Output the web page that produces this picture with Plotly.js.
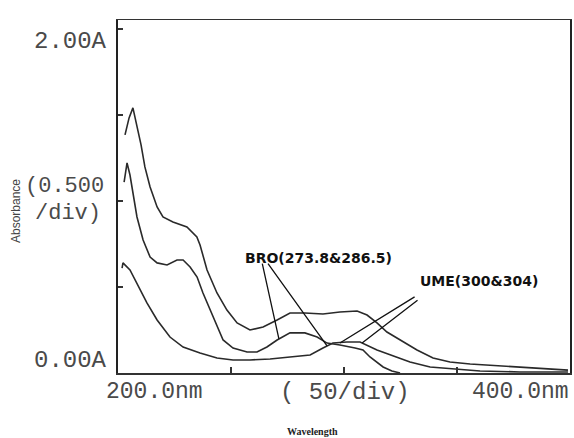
<!DOCTYPE html>
<html>
<head>
<meta charset="utf-8">
<script src="https://cdn.plot.ly/plotly-3.0.1.min.js"></script>
<style>html,body{margin:0;padding:0;background:#fff;}#chart{width:574px;height:438px;}</style>
</head>
<body>
<div id="chart"></div>
<script>
// Wavelength (nm) / absorbance (A)
const wlA = [203.1,204.9,206.6,208.4,210.2,211.9,214.2,217.3,219.9,224.3,230.5,234.9,236.3,239.4,243.8,248.2,252.7,258.4,264.2,270.4,276.1,282.7,290.7,298.2,305.8,310.2,314.6,319.0,324.8,332.3,339.4,346.9,355.8,369.0,382.3,399.1];
const absA = [1.384,1.483,1.541,1.442,1.326,1.198,1.081,0.965,0.907,0.878,0.849,0.791,0.744,0.599,0.465,0.366,0.291,0.250,0.267,0.308,0.349,0.349,0.343,0.355,0.360,0.337,0.291,0.238,0.192,0.134,0.087,0.064,0.052,0.041,0.029,0.017];

const wlB = [202.7,204.0,205.3,206.6,208.4,211.1,214.2,217.3,221.7,226.1,228.8,231.9,235.0,237.6,240.7,243.8,246.5,250.9,257.1,261.5,265.9,270.4,276.1,282.7,288.1,292.5,298.2,304.9,308.4,311.5,314.6,317.3,321.2,324.8];
const absB = [1.110,1.221,1.151,1.052,0.907,0.773,0.674,0.640,0.628,0.657,0.657,0.616,0.558,0.465,0.366,0.267,0.192,0.145,0.122,0.122,0.151,0.192,0.233,0.233,0.209,0.174,0.163,0.145,0.134,0.093,0.064,0.035,0.012,0.0];

const wlC = [201.8,202.2,205.3,208.4,212.8,217.3,223.0,228.8,236.3,243.8,250.9,258.4,267.3,276.1,285.0,290.7,295.1,301.3,307.1,314.6,320.4,329.2,338.1,350.0,360.2,377.9,399.1];
const absC = [0.610,0.640,0.599,0.523,0.407,0.308,0.209,0.151,0.116,0.087,0.076,0.076,0.081,0.093,0.105,0.145,0.174,0.180,0.180,0.134,0.105,0.064,0.035,0.023,0.012,0.006,0.006];

// Peak labels and their pointer lines (tail near label -> point on curve)
const peakLabels = ["BRO(273.8&286.5)", "UME(300&304)"];
const pointerTailWl = [263.7, 265.9, 331.9, 333.2];
const pointerTailAbs = [0.645, 0.645, 0.448, 0.430];
const pointerHeadWl = [271.2, 292.5, 298.2, 308.0];
const pointerHeadAbs = [0.198, 0.157, 0.174, 0.174];

// Axis texts as printed by the instrument
const yTickTexts = ["2.00A", "(0.500", "/div)", "0.00A"];
const xTickTexts = ["200.0nm", "( 50/div)", "400.0nm"];
const xRange = [200, 400];
const yRange = [0, 2.052];

const W = 574, H = 438, L = 118, R = 4, T = 20, B = 65;
const pw = W - L - R, ph = H - T - B;
const px = v => (v - L) / pw;          // pixel -> paper x
const py = v => (H - B - v) / ph;      // pixel -> paper y

const lineStyle = {color: '#2a2a2a', width: 1.6};
const traces = [
  {x: wlA, y: absA, mode: 'lines', line: lineStyle, hoverinfo: 'skip'},
  {x: wlB, y: absB, mode: 'lines', line: lineStyle, hoverinfo: 'skip'},
  {x: wlC, y: absC, mode: 'lines', line: lineStyle, hoverinfo: 'skip'}
];

const mono = {family: 'Liberation Mono, DejaVu Sans Mono, monospace', size: 24, color: '#4a4a4a'};
const ann = [];
function txt(t, x, y, font, extra) {
  ann.push(Object.assign({text: t, xref: 'paper', yref: 'paper', x: px(x), y: py(y),
    xanchor: 'center', yanchor: 'middle', showarrow: false, font: font}, extra || {}));
}
txt(yTickTexts[0], 70, 41, mono);
txt(yTickTexts[1], 64, 186, Object.assign({}, mono, {size: 22}));
txt(yTickTexts[2], 68, 214, Object.assign({}, mono, {size: 22}));
txt(yTickTexts[3], 70, 360, mono);
txt(xTickTexts[0], 154, 392, Object.assign({}, mono, {size: 23}));
txt(xTickTexts[1], 345, 392, mono);
txt(xTickTexts[2], 520, 392, Object.assign({}, mono, {size: 23}));
txt('Absorbance', 16, 211, {family: 'Liberation Sans, Arial, sans-serif', size: 12, color: '#444'}, {textangle: -90});
txt('Wavelength', 312, 431, {family: 'Liberation Serif, serif', size: 10, color: '#222', weight: 'bold'});
const bold = {family: 'DejaVu Sans, sans-serif', size: 14, color: '#111', weight: 'bold'};
txt(peakLabels[0], 318, 258, bold);
txt(peakLabels[1], 479, 281, bold);

for (let i = 0; i < pointerTailWl.length; i++) {
  ann.push({text: '', xref: 'x', yref: 'y', axref: 'x', ayref: 'y',
    x: pointerHeadWl[i], y: pointerHeadAbs[i], ax: pointerTailWl[i], ay: pointerTailAbs[i],
    showarrow: true, arrowhead: 0, arrowwidth: 1.3, arrowcolor: '#111'});
}

const layout = {
  width: W, height: H,
  margin: {l: L, r: R, t: T, b: B, pad: 0},
  paper_bgcolor: '#fff', plot_bgcolor: '#fff',
  showlegend: false,
  xaxis: {range: xRange, showgrid: false, zeroline: false, showline: true, mirror: true,
    linecolor: '#333', linewidth: 1.5, tickvals: [250, 300, 350], showticklabels: false,
    ticks: 'inside', ticklen: 6, tickcolor: '#333', tickwidth: 1.5},
  yaxis: {range: yRange, showgrid: false, zeroline: false, showline: true, mirror: true,
    linecolor: '#222', linewidth: 2, tickvals: [0.5, 1.0, 1.5, 2.0], showticklabels: false,
    ticks: 'inside', ticklen: 5, tickcolor: '#333', tickwidth: 1.5},
  annotations: ann
};

Plotly.newPlot('chart', traces, layout, {staticPlot: true, displayModeBar: false});
</script>
</body>
</html>
